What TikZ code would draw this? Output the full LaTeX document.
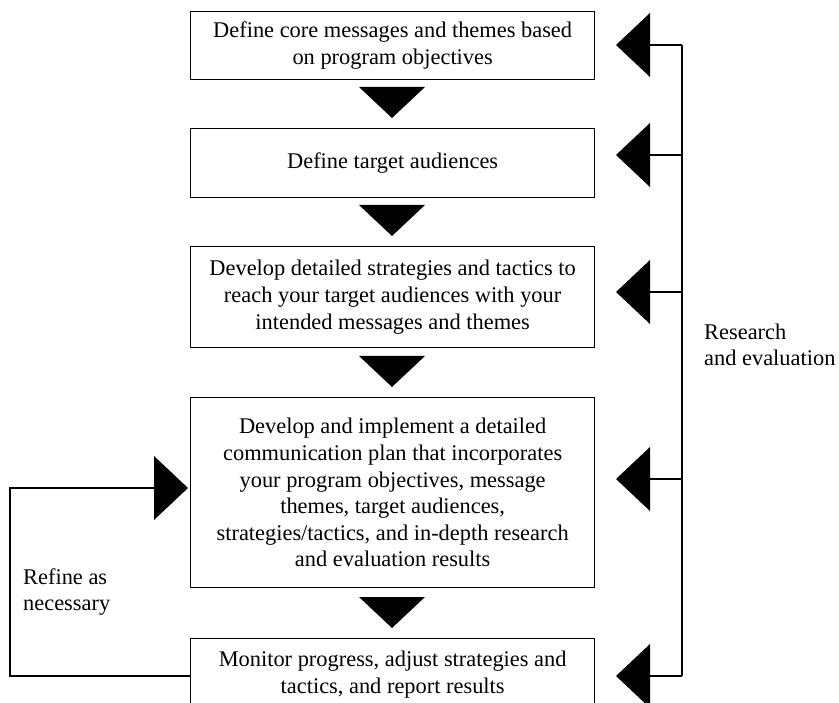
\documentclass[tikz,border=0pt]{standalone}
\usepackage{fontspec}
\setmainfont{Liberation Serif}
\begin{document}
\begin{tikzpicture}[x=1pt,y=-1pt,
  stepbox/.style={draw, line width=1.3pt, fill=white, inner sep=0pt,
    align=center, minimum width=404pt, anchor=north west,
    font=\fontsize{22.4}{26.6}\selectfont},
  sidelabel/.style={inner sep=0pt, align=left, anchor=west,
    font=\fontsize{22.4}{26}\selectfont},
  link/.style={draw, line width=1.3pt},
  tip/.style={fill=black}]
\useasboundingbox (0,0) rectangle (839,703);
\clip (0,0) rectangle (839,703);

% process steps
\node[stepbox, minimum height=68pt] (b1) at (190,11)
  {Define core messages and themes based\\on program objectives};
\node[stepbox, minimum height=69pt] (b2) at (190,128)
  {Define target audiences};
\node[stepbox, minimum height=101pt] (b3) at (190,246)
  {Develop detailed strategies and tactics to\\reach your target audiences with your\\intended messages and themes};
\node[stepbox, minimum height=190pt] (b4) at (190,397)
  {Develop and implement a detailed\\communication plan that incorporates\\your program objectives, message\\themes, target audiences,\\strategies/tactics, and in-depth research\\and evaluation results};
\node[stepbox, minimum height=72pt] (b5) at (190,638)
  {Monitor progress, adjust strategies and\\tactics, and report results};

% downward arrows between steps
\foreach \n/\y in {1/87, 2/205, 3/356, 4/597}{
  \coordinate (d\n) at (392,\y);
  \fill[tip] (d\n) ++(-33,0) -- ++(66,0) -- ++(-33,31) -- cycle;
}

% research and evaluation feedback on the right
\foreach \n/\y in {1/45, 2/155, 3/292, 4/479, 5/676}{
  \coordinate (r\n) at (616,\y);
  \coordinate (rb\n) at (650,\y);
  \coordinate (j\n) at (682,\y);
  \fill[tip] (r\n) -- ++(34,-32) -- ++(0,64) -- cycle;
  \draw[link] (rb\n) -- (j\n);
}
\draw[link] (j1) -- (j5);
\node[sidelabel] (research) at (704,345) {Research\\and evaluation};

% refinement loop on the left
\coordinate (l5) at (190,676);
\coordinate (lc1) at (10,676);
\coordinate (lc2) at (10,488);
\coordinate (lb) at (154,488);
\coordinate (lt) at (188,488);
\fill[tip] (lt) -- ++(-34,-32) -- ++(0,64) -- cycle;
\draw[link] (l5) -- (lc1) -- (lc2) -- (lb);
\node[sidelabel] (refine) at (23,592) {Refine as\\necessary};
\end{tikzpicture}
\end{document}
